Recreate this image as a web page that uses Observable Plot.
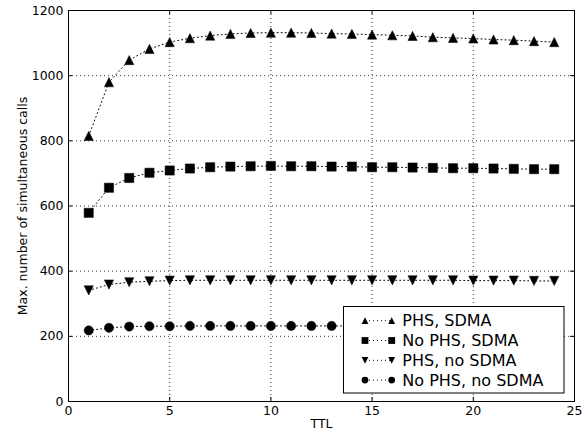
<!DOCTYPE html>
<html>
<head>
<meta charset="utf-8">
<script src="https://cdn.jsdelivr.net/npm/d3@7"></script>
<script src="https://cdn.jsdelivr.net/npm/@observablehq/plot@0.6"></script>
<style>
  html, body { margin: 0; padding: 0; background: #fff; }
  #chart svg { display: block; font-family: "DejaVu Sans", sans-serif; }
</style>
</head>
<body>
<div id="chart"></div>
<script>
// ---- data ----
const ttl = [1,2,3,4,5,6,7,8,9,10,11,12,13,14,15,16,17,18,19,20,21,22,23,24];
const phsSdma = [815,980,1048,1082,1103,1115,1123,1128,1131,1132,1132,1131,1129,1128,1126,1124,1122,1118,1116,1114,1111,1109,1106,1103];
const noPhsSdma = [579,656,686,702,709,715,719,721,722,723,722,722,721,721,719,719,718,717,716,716,715,714,713,713];
const phsNoSdma = [341,359,366,369,371,372,372,372,372,372,372,372,372,372,372,372,372,372,372,371,371,371,370,370];
const noPhsNoSdma = [218,226,230,231,231,232,232,232,232,232,232,232,232,232,232,232,232,232,232,232,232,232,232,232];
const seriesNames = ["PHS, SDMA", "No PHS, SDMA", "PHS, no SDMA", "No PHS, no SDMA"];
const xTicks = [0,5,10,15,20,25];
const yTicks = [0,200,400,600,800,1000,1200];
const xLabel = "TTL";
const yLabel = "Max. number of simultaneous calls";

// ---- symbols (matplotlib-like) ----
const rad = size => Math.sqrt(size / Math.PI);
const triUp = {draw(c, s){ const h = rad(s); c.moveTo(0,-h); c.lineTo(h,h); c.lineTo(-h,h); c.closePath(); }};
const triDown = {draw(c, s){ const h = rad(s); c.moveTo(0,h); c.lineTo(h,-h); c.lineTo(-h,-h); c.closePath(); }};
const square = {draw(c, s){ const h = rad(s); c.rect(-h,-h,2*h,2*h); }};
const circle = {draw(c, s){ const h = rad(s); c.moveTo(h,0); c.arc(0,0,h,0,2*Math.PI); }};
const symbols = [triUp, square, triDown, circle];
const allSeries = [phsSdma, noPhsSdma, phsNoSdma, noPhsNoSdma];

const rows = [];
allSeries.forEach((vals, i) => vals.forEach((v, j) => rows.push({series: seriesNames[i], s: i, ttl: ttl[j], v})));

const W = 587, H = 436, mL = 68, mR = 13, mT = 10, mB = 35;
const pw = W - mL - mR, ph = H - mT - mB;
const tick = 4;
const fmt = d3.format("d");

const marks = [
  Plot.gridX(xTicks, {stroke: "black", strokeOpacity: 1, strokeDasharray: "1,3", strokeWidth: 0.8}),
  Plot.gridY(yTicks, {stroke: "black", strokeOpacity: 1, strokeDasharray: "1,3", strokeWidth: 0.8}),
  Plot.axisX(xTicks, {tickSize: 0, tickPadding: 5, fontSize: 12.5, label: null, tickFormat: fmt}),
  Plot.axisY(yTicks, {tickSize: 0, tickPadding: 5, fontSize: 12.5, label: null, tickFormat: fmt}),
  Plot.tickY(yTicks, {y: d => d, insetRight: pw - tick, stroke: "black"}),
  Plot.tickY(yTicks, {y: d => d, insetLeft: pw - tick, stroke: "black"}),
  Plot.tickX(xTicks, {x: d => d, insetTop: ph - tick, stroke: "black"}),
  Plot.tickX(xTicks, {x: d => d, insetBottom: ph - tick, stroke: "black"}),
];
allSeries.forEach((vals, i) => {
  const d = rows.filter(r => r.s === i);
  marks.push(Plot.line(d, {x: "ttl", y: "v", stroke: "black", strokeWidth: 1, strokeDasharray: "1,3"}));
  marks.push(Plot.dot(d, {x: "ttl", y: "v", symbol: () => symbols[i], r: 4.6, fill: "black", stroke: "black", strokeWidth: 0.5}));
});
marks.push(Plot.frame({stroke: "black", strokeWidth: 1}));
marks.push(Plot.text([yLabel], {frameAnchor: "left", textAnchor: "middle", dx: -46, rotate: -90, fontSize: 12.5, fill: "black"}));
marks.push(Plot.text([xLabel], {frameAnchor: "bottom", dy: 26, fontSize: 12.5, fill: "black"}));

const chart = Plot.plot({
  width: W, height: H,
  marginLeft: mL, marginRight: mR, marginTop: mT, marginBottom: mB,
  style: {fontFamily: "DejaVu Sans, sans-serif", color: "black", background: "white"},
  x: {domain: [0, 25]},
  y: {domain: [0, 1200]},
  symbol: {type: "identity"},
  marks
});
document.getElementById("chart").appendChild(chart);

// ---- legend ----
const svg = d3.select(chart);
const lg = svg.append("g").attr("text-anchor", "start");
lg.append("rect").attr("x", 343.5).attr("y", 306.5).attr("width", 220.5).attr("height", 86.5)
  .attr("fill", "white").attr("stroke", "black").attr("stroke-width", 1);
seriesNames.forEach((name, i) => {
  const y = 320.7 + i * 19.8;
  const g = lg.append("g");
  g.append("line").attr("x1", 365).attr("x2", 391.7).attr("y1", y).attr("y2", y)
    .attr("stroke", "black").attr("stroke-dasharray", "1,3");
  const sym = d3.symbol(symbols[i], Math.PI * 3.4 * 3.4);
  [365, 391.7].forEach(x => g.append("path").attr("d", sym()).attr("transform", `translate(${x},${y})`).attr("fill", "black"));
  g.append("text").attr("x", 402.3).attr("y", y).attr("dy", "0.36em").attr("text-anchor", "start")
    .attr("font-size", 16).attr("fill", "black").text(name);
});
</script>
</body>
</html>
